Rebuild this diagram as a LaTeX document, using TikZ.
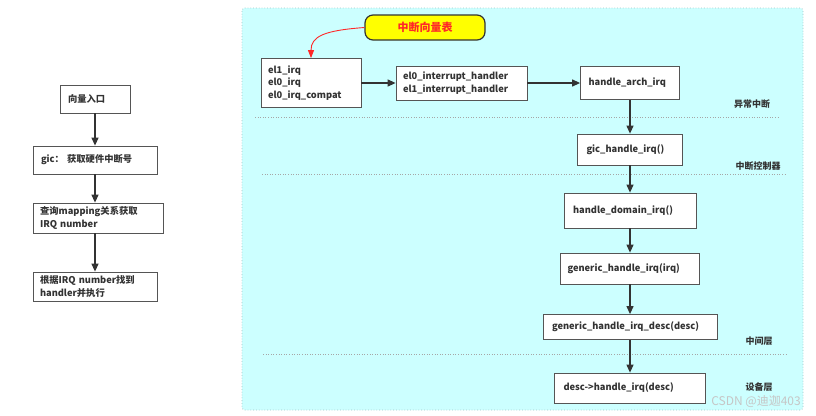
\documentclass[tikz,border=0pt]{standalone}
\usepackage{fontspec}
\setmainfont{Noto Sans CJK SC}
\usetikzlibrary{arrows.meta}
\definecolor{panelcyan}{RGB}{204,255,255}
\definecolor{panelborder}{RGB}{160,200,200}
\definecolor{boxborder}{RGB}{85,85,85}
\definecolor{txtgray}{RGB}{51,51,51}
\definecolor{linegray}{RGB}{51,51,51}
\definecolor{callred}{RGB}{255,40,40}
\definecolor{callyellow}{RGB}{255,255,0}
\tikzset{
  box/.style={draw=boxborder, fill=white, line width=0.8pt, align=left,
    font=\fontsize{9.3}{12.5}\selectfont\bfseries, text=txtgray, inner ysep=0pt},
  flow/.style={draw=linegray, line width=1.2pt, -{Triangle[length=8pt,width=7pt]}},
  sep/.style={draw=gray!70, line width=0.6pt, dotted},
  layer/.style={font=\fontsize{9}{11}\selectfont\bfseries, text=txtgray, inner sep=0pt},
}
\begin{document}
\begin{tikzpicture}[x=1pt,y=-1pt]
\useasboundingbox (0,0) rectangle (816,415);
\fill[white] (0,0) rectangle (816,415);
% right panel
\draw[fill=panelcyan, draw=panelborder, dotted, line width=0.8pt, rounded corners=3pt] (242,8) rectangle (803,410);
% left flow
\node[box, minimum width=70pt, minimum height=28pt, inner xsep=8pt, text width=54pt] (l1) at (95,99) {向量入口};
\node[box, minimum width=124pt, minimum height=28pt, inner xsep=8pt, text width=108pt] (l2) at (95,160) {gic： 获取硬件中断号};
\node[box, minimum width=130pt, minimum height=30pt, inner xsep=7pt, text width=116pt] (l3) at (98,218) {查询mapping关系获取\\IRQ number};
\node[box, minimum width=124pt, minimum height=29pt, inner xsep=7pt, text width=110pt] (l4) at (95,286.5) {根据IRQ number找到\\handler并执行};
\draw[flow] (l1.south) -- (l2.north);
\draw[flow] (l2.south) -- (l2.south |- l3.north);
\draw[flow] (l2.south |- l3.south) -- (l4.north);
% separators
\draw[sep] (255,117) -- (779,117);
\draw[sep] (262,174) -- (785,174);
\draw[sep] (263,354) -- (786,354);
% callout
\node[draw=linegray, fill=callyellow, line width=1.2pt, rounded corners=8pt, minimum width=120pt, minimum height=25pt,
  font=\fontsize{11}{13}\selectfont\bfseries, text=callred] (call) at (425,27.5) {中断向量表};
% right boxes
\node[box, minimum width=100pt, minimum height=49pt, inner xsep=7pt, text width=86pt] (a) at (311,83) {el1\_irq\\el0\_irq\\el0\_irq\_compat};
\node[box, minimum width=131pt, minimum height=34pt, inner xsep=7pt, text width=117pt] (b) at (461.5,83) {el0\_interrupt\_handler\\el1\_interrupt\_handler};
\node[box, minimum width=99pt, minimum height=33pt, inner xsep=8pt, text width=83pt] (c) at (630,83) {handle\_arch\_irq};
\node[box, minimum width=105pt, minimum height=31pt, inner xsep=9pt, text width=87pt] (d) at (630,149.5) {gic\_handle\_irq()};
\node[box, minimum width=132pt, minimum height=35pt, inner xsep=9pt, text width=114pt] (e) at (630,210.5) {handle\_domain\_irq()};
\node[box, minimum width=139pt, minimum height=31pt, inner xsep=7pt, text width=125pt] (f) at (630,268.5) {generic\_handle\_irq(irq)};
\node[box, minimum width=174pt, minimum height=25pt, inner xsep=9pt, text width=156pt] (g) at (630,327) {generic\_handle\_irq\_desc(desc)};
\node[box, minimum width=151pt, minimum height=30pt, inner xsep=9pt, text width=133pt] (h) at (630,388) {desc->handle\_irq(desc)};
\draw[flow] (a) -- (b);
\draw[flow] (b) -- (c);
\draw[flow] (c) -- (d);
\draw[flow] (d) -- (e);
\draw[flow] (e) -- (f);
\draw[flow] (f) -- (g);
\draw[flow] (g) -- (h);
\draw[draw=callred, line width=0.9pt, -{Triangle[length=8pt,width=6pt]}] (call.west) .. controls +(-40,3) and +(0,-22) .. (a.north);
% layer labels
\node[layer] (t1) at (752,104) {异常中断};
\node[layer] (t2) at (758,166) {中断控制器};
\node[layer] (t3) at (759,341) {中间层};
\node[layer] (t4) at (759,387) {设备层};
% watermark
\node[font=\fontsize{12}{14}\selectfont, text=gray!45, inner sep=0pt, anchor=east] (wm) at (801,401.5) {CSDN @迪迦403};
\end{tikzpicture}
\end{document}
